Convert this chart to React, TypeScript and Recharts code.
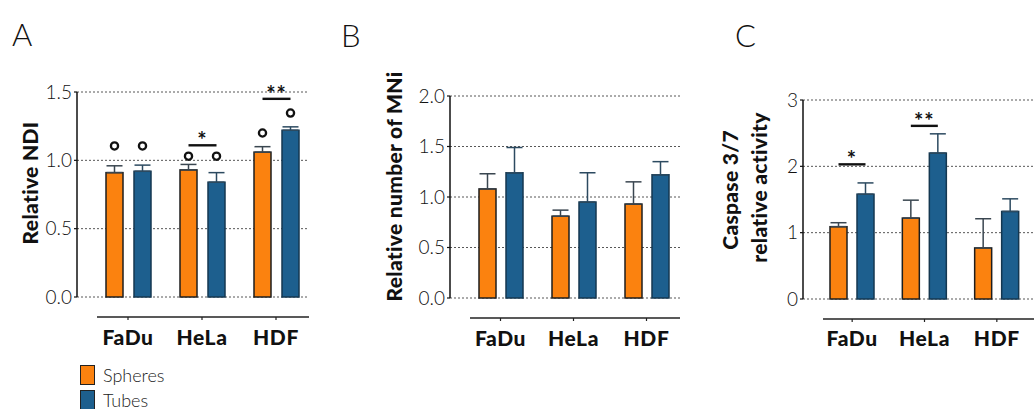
import React from 'react';
import { BarChart, Bar, XAxis, YAxis, CartesianGrid, ErrorBar, Legend } from 'recharts';

const categories = ['FaDu', 'HeLa', 'HDF'];

// Panel A – Relative NDI
const ndiSpheres = [0.91, 0.93, 1.06];
const ndiSpheresErr = [0.05, 0.04, 0.04];
const ndiTubes = [0.92, 0.84, 1.22];
const ndiTubesErr = [0.045, 0.07, 0.025];
const ndiSpheresMark = [1.105, 1.03, 1.2];
const ndiTubesMark = [1.105, 1.03, 1.346];
const ndiSig = ['', '*', '**'];
const ndiSigY = [0, 1.11, 1.45];
const ticksA = [0, 0.5, 1.0, 1.5];

// Panel B – Relative number of MNi
const mniSpheres = [1.08, 0.81, 0.93];
const mniSpheresErr = [0.15, 0.06, 0.22];
const mniTubes = [1.24, 0.95, 1.22];
const mniTubesErr = [0.25, 0.29, 0.13];
const ticksB = [0, 0.5, 1.0, 1.5, 2.0];

// Panel C – Caspase 3/7 relative activity
const caspSpheres = [1.09, 1.22, 0.77];
const caspSpheresErr = [0.06, 0.27, 0.44];
const caspTubes = [1.58, 2.2, 1.32];
const caspTubesErr = [0.17, 0.29, 0.19];
const caspSig = ['*', '**', ''];
const caspSigY = [2.03, 2.61, 0];
const ticksC = [0, 1, 2, 3];

const FONT = 'Lato, "Open Sans", "DejaVu Sans", sans-serif';
const ORANGE = '#FB820F';
const BLUE = '#1D5F8E';

type Row = {
  name: string;
  spheres: number;
  tubes: number;
  spheresErr: [number, number];
  tubesErr: [number, number];
  markS: number | null;
  markT: number | null;
  sig: string;
  sigY: number;
};

function buildRows(
  s: number[], se: number[], t: number[], te: number[],
  ms: (number | null)[] | null, mt: (number | null)[] | null,
  sig: string[] | null, sigY: number[] | null
): Row[] {
  return categories.map((name, i) => ({
    name,
    spheres: s[i],
    tubes: t[i],
    spheresErr: [0, se[i]],
    tubesErr: [0, te[i]],
    markS: ms ? ms[i] : null,
    markT: mt ? mt[i] : null,
    sig: sig ? sig[i] : '',
    sigY: sigY ? sigY[i] : 0,
  }));
}

const dataA = buildRows(ndiSpheres, ndiSpheresErr, ndiTubes, ndiTubesErr, ndiSpheresMark, ndiTubesMark, ndiSig, ndiSigY);
const dataB = buildRows(mniSpheres, mniSpheresErr, mniTubes, mniTubesErr, null, null, null, null);
const dataC = buildRows(caspSpheres, caspSpheresErr, caspTubes, caspTubesErr, null, null, caspSig, caspSigY);

const makeShape = (kind: 'spheres' | 'tubes', gap: number) => (props: any) => {
  const { x, y, width, height, payload } = props;
  const fill = kind === 'spheres' ? ORANGE : BLUE;
  const stroke = kind === 'spheres' ? '#1e1e1e' : '#143750';
  const val = payload[kind];
  const bottom = y + height;
  const toPx = (v: number) => bottom - (v / val) * height;
  const mark = kind === 'spheres' ? payload.markS : payload.markT;
  const cx = x + width / 2;
  return (
    <g>
      <rect x={x} y={y} width={width} height={height} fill={fill} stroke={stroke} strokeWidth={1.5} />
      {mark != null && (
        <circle cx={cx} cy={toPx(mark)} r={3.6} fill="none" stroke="#111" strokeWidth={2.3} />
      )}
      {kind === 'tubes' && payload.sig ? (
        <g>
          <line
            x1={cx - (width + gap)}
            x2={cx}
            y1={toPx(payload.sigY)}
            y2={toPx(payload.sigY)}
            stroke="#111"
            strokeWidth={2.4}
          />
          <text
            x={cx - (width + gap) / 2}
            y={toPx(payload.sigY) + 3}
            textAnchor="middle"
            fontFamily={FONT}
            fontWeight={700}
            fontSize={22}
            letterSpacing={1}
            fill="#111"
          >
            {payload.sig}
          </text>
        </g>
      ) : null}
    </g>
  );
};

const CatTick = (props: any) => {
  const { x, y, payload, baseline } = props;
  return (
    <g>
      <line x1={x} x2={x} y1={y + 20} y2={y + 23} stroke="#222" strokeWidth={1.2} />
      <text
        x={x}
        y={y + baseline}
        textAnchor="middle"
        fontFamily={FONT}
        fontWeight={900}
        fontSize={21}
        letterSpacing={0.6}
        fill="#111"
      >
        {payload.value}
      </text>
    </g>
  );
};

const catLine = (extraRight: number) => (props: any) => {
  const vb = props.viewBox || props;
  return (
    <line
      x1={vb.x + 20}
      x2={vb.x + vb.width + extraRight}
      y1={vb.y + 20}
      y2={vb.y + 20}
      stroke="#222"
      strokeWidth={1.6}
    />
  );
};

const yLabel = (lines: { text: string; dx: number; dy: number }[]) => (props: any) => {
  const vb = props.viewBox || props;
  const plotLeft = vb.x + vb.width;
  const cy = vb.y + vb.height / 2;
  return (
    <g>
      {lines.map((l) => {
        const px = plotLeft + l.dx;
        const py = cy + l.dy;
        return (
          <text
            key={l.text}
            x={px}
            y={py}
            transform={`rotate(-90, ${px}, ${py})`}
            textAnchor="middle"
            fontFamily={FONT}
            fontWeight={900}
            fontSize={21}
            letterSpacing={0.3}
            fill="#111"
          >
            {l.text}
          </text>
        );
      })}
    </g>
  );
};

const renderLegend = (props: any) => {
  const { payload } = props;
  return (
    <div style={{ fontFamily: FONT, fontSize: 18, fontWeight: 300, color: '#222' }}>
      {(payload || []).map((e: any) => (
        <div key={e.value} style={{ display: 'flex', alignItems: 'center', height: 25 }}>
          <span
            style={{
              display: 'inline-block',
              width: 13,
              height: 18,
              background: e.color,
              border: '1.5px solid #222',
              marginRight: 8,
            }}
          />
          <span>{e.value}</span>
        </div>
      ))}
    </div>
  );
};

type PanelProps = {
  data: Row[];
  width: number;
  margin: { top: number; right: number; bottom: number; left: number };
  domain: [number, number];
  ticks: number[];
  decimals: number;
  pad: { left: number; right: number };
  gap: number;
  baseline: number;
  extraRight: number;
  label: { text: string; dx: number; dy: number }[];
  legend?: boolean;
};

const Panel = (p: PanelProps) => (
  <BarChart width={p.width} height={409} data={p.data} margin={p.margin} barGap={p.gap} barSize={17}>
    <CartesianGrid vertical={false} stroke="#444" strokeWidth={0.9} strokeDasharray="2 2" />
    <XAxis
      dataKey="name"
      height={60}
      interval={0}
      axisLine={false}
      tickLine={false}
      tickSize={0}
      tickMargin={0}
      padding={p.pad}
      tick={<CatTick baseline={p.baseline} />}
      label={{ content: catLine(p.extraRight) } as any}
    />
    <YAxis
      width={40}
      domain={p.domain}
      ticks={p.ticks}
      interval={0}
      tickSize={3}
      tickMargin={2}
      tickFormatter={(v: number) => v.toFixed(p.decimals)}
      axisLine={{ stroke: '#111', strokeWidth: 1.5 }}
      tickLine={{ stroke: '#111', strokeWidth: 1.2 }}
      tick={{ fontFamily: FONT, fontWeight: 300, fontSize: 19, fill: '#111' }}
      label={{ content: yLabel(p.label) } as any}
    />
    <Bar dataKey="spheres" name="Spheres" fill={ORANGE} shape={makeShape('spheres', p.gap)} isAnimationActive={false}>
      <ErrorBar dataKey="spheresErr" width={8} stroke="#3a4650" strokeWidth={1.5} direction="y" />
    </Bar>
    <Bar dataKey="tubes" name="Tubes" fill={BLUE} shape={makeShape('tubes', p.gap)} isAnimationActive={false}>
      <ErrorBar dataKey="tubesErr" width={8} stroke="#2c4a60" strokeWidth={1.5} direction="y" />
    </Bar>
    {p.legend ? (
      <Legend
        layout="vertical"
        align="center"
        verticalAlign="middle"
        content={renderLegend}
        wrapperStyle={{ left: 80, top: 362, width: 120 }}
      />
    ) : null}
  </BarChart>
);

export default function App() {
  return (
    <div style={{ position: 'absolute', left: 0, top: 0, width: 1034, height: 409, background: '#fff', overflow: 'hidden' }}>
      <div style={{ position: 'absolute', left: 0, top: 0 }}>
        <Panel
          data={dataA}
          width={340}
          margin={{ top: 92, right: 32, bottom: 52, left: 37 }}
          domain={[0, 1.5]}
          ticks={ticksA}
          decimals={1}
          pad={{ left: 14, right: -5 }}
          gap={11}
          baseline={48}
          extraRight={1}
          label={[{ text: 'Relative NDI', dx: -39, dy: -11.5 }]}
          legend
        />
      </div>
      <div style={{ position: 'absolute', left: 340, top: 0 }}>
        <Panel
          data={dataB}
          width={350}
          margin={{ top: 96, right: 10, bottom: 51, left: 70 }}
          domain={[0, 2]}
          ticks={ticksB}
          decimals={1}
          pad={{ left: 14, right: -3 }}
          gap={10}
          baseline={48}
          extraRight={0}
          label={[{ text: 'Relative number of MNi', dx: -48.5, dy: -10.5 }]}
        />
      </div>
      <div style={{ position: 'absolute', left: 690, top: 0 }}>
        <Panel
          data={dataC}
          width={344}
          margin={{ top: 100, right: 0, bottom: 50, left: 73 }}
          domain={[0, 3]}
          ticks={ticksC}
          decimals={0}
          pad={{ left: 13, right: 1 }}
          gap={10}
          baseline={47}
          extraRight={0}
          label={[
            { text: 'Caspase 3/7', dx: -65, dy: -9.6 },
            { text: 'relative activity', dx: -36.5, dy: -12 },
          ]}
        />
      </div>
      <svg width={1034} height={409} style={{ position: 'absolute', left: 0, top: 0, pointerEvents: 'none' }}>
        <text x={12} y={46} fontFamily={FONT} fontWeight={300} fontSize={31} fill="#111">A</text>
        <text x={341} y={46.5} fontFamily={FONT} fontWeight={300} fontSize={31} fill="#111">B</text>
        <text x={735} y={46.5} fontFamily={FONT} fontWeight={300} fontSize={31} fill="#111">C</text>
      </svg>
    </div>
  );
}
